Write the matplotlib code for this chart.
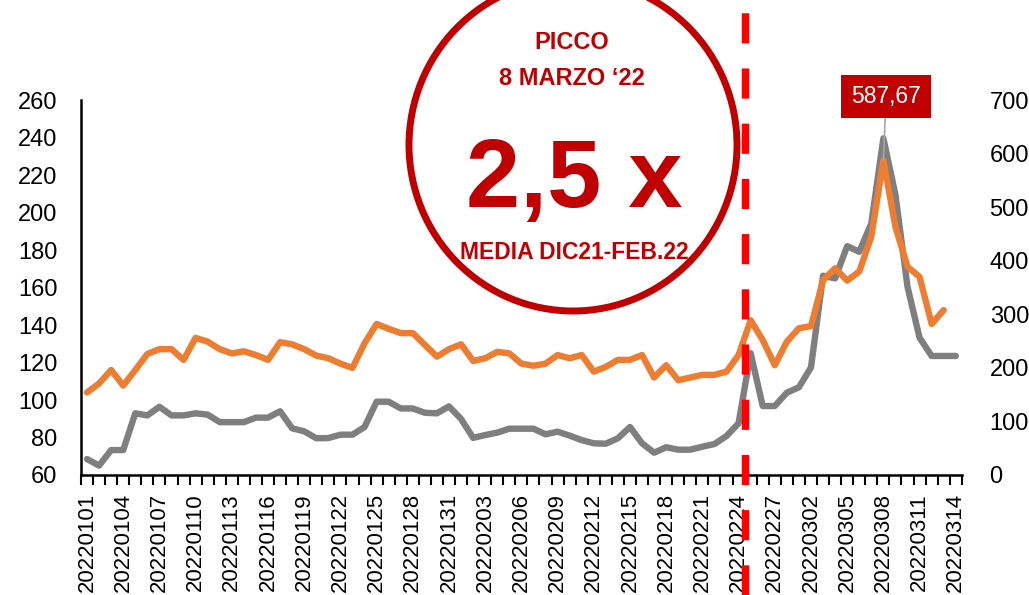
import matplotlib
matplotlib.use("Agg")
import matplotlib.pyplot as plt
from matplotlib.patches import Ellipse
import numpy as np
import pandas as pd

plt.rcParams['font.family'] = ['Liberation Sans', 'DejaVu Sans']

# daily categories 2022-01-01 .. 2022-03-14
dates = list(pd.date_range("2022-01-01", "2022-03-14").strftime("%Y%m%d"))

# grey series, left axis
grey = [68.5, 65.0, 73.3, 73.3, 92.9, 91.8, 96.4, 91.8, 91.8, 92.9,
        92.2, 88.2, 88.2, 88.2, 90.6, 90.6, 94.0, 84.9, 83.3, 79.6,
        79.7, 81.5, 81.5, 85.6, 99.1, 99.1, 95.5, 95.5, 93.2, 92.9,
        96.6, 89.9, 79.8, 81.3, 82.6, 84.7, 84.7, 84.7, 81.7, 83.1,
        81.0, 78.6, 76.9, 76.7, 79.6, 85.6, 76.9, 71.9, 74.8, 73.5,
        73.5, 75.1, 76.5, 80.8, 87.6, 125.0, 96.8, 96.8, 103.9, 106.8,
        117.4, 166.3, 164.9, 182.1, 179.1, 194.2, 239.6, 209.5, 160.4, 133.2,
        123.5, 123.5, 123.5]

# orange series, right axis (one day shorter)
orange = [154, 171, 196, 167, 196, 226, 235, 235, 215, 256,
          249, 235, 227, 231, 224, 215, 248, 244, 235, 223,
          218, 208, 200, 246, 282, 273, 265, 265, 243, 221,
          235, 244, 213, 218, 230, 227, 208, 204, 208, 224,
          218, 224, 193, 202, 215, 215, 224, 182, 205, 177,
          182, 187, 187, 193, 224, 289, 252, 205, 249, 274,
          278, 364, 386, 363, 380, 445, 587.67, 463, 389, 370,
          282, 308]

peak_idx = 66      # 8 marzo
event_idx = 54     # 24 febbraio

left_ticks = list(range(60, 261, 20))
right_ticks = list(range(0, 701, 100))

RED = "#C00000"

fig = plt.figure(figsize=(10.29, 5.95), dpi=100)
ax = fig.add_axes([0.0787, 0.2017, 0.856, 0.630])
ax2 = ax.twinx()

ax.plot(np.arange(len(grey)), grey, color="#7F7F7F", lw=4.6,
        solid_capstyle="round", solid_joinstyle="round")
ax2.plot(np.arange(len(orange)), orange, color="#ED7D31", lw=4.6,
         solid_capstyle="round", solid_joinstyle="round")

ax.set_xlim(-0.5, len(dates) - 0.5)
ax.set_ylim(60, 260)
ax2.set_ylim(0, 700)
ax.set_yticks(left_ticks)
ax2.set_yticks(right_ticks)
ax.tick_params(axis="y", length=0, pad=17, labelsize=17)
ax2.tick_params(axis="y", length=0, pad=20, labelsize=17)

# ticks between categories, labels every 3 days
ax.set_xticks(np.arange(-0.5, len(dates), 1.0))
ax.set_xticklabels([])
lab_pos = np.arange(0, len(dates), 3)
ax.set_xticks(lab_pos, minor=True)
ax.set_xticklabels([dates[i] for i in lab_pos], minor=True, rotation=90)
ax.tick_params(axis="x", which="major", length=7, width=1.5, direction="out")
ax.tick_params(axis="x", which="minor", length=0, pad=13, labelsize=16)

for s in ["top", "right"]:
    ax.spines[s].set_visible(False)
for s in ax2.spines.values():
    s.set_visible(False)
ax.spines["left"].set_linewidth(1.8)
ax.spines["bottom"].set_linewidth(1.8)

# dashed event line
ax2.axvline(event_idx + 0.5, ymin=-0.32, ymax=1.27, color="#FF0000", lw=5.3,
            dashes=(4.1, 3.4), clip_on=False, zorder=10)

# peak label
ax2.annotate("587,67", xy=(peak_idx, orange[peak_idx]), xytext=(2, 46),
             textcoords="offset points", ha="center", va="center",
             color="white", fontsize=16.5,
             bbox=dict(boxstyle="square,pad=0.45", fc=RED, ec="none"),
             arrowprops=dict(arrowstyle="-", color="#A6A6A6", lw=1.2,
                             shrinkA=0, shrinkB=0))

# circle callout
W, H = 1029, 595
fig.add_artist(Ellipse((573 / W, 1 - 145 / H), 2 * 164 / W, 2 * 166 / H,
                       transform=fig.transFigure, fill=False, ec=RED, lw=5))
fig.text(572 / W, 1 - 49 / H, "PICCO", ha="center", va="baseline",
         fontsize=17, weight="bold", color=RED)
fig.text(572 / W, 1 - 85 / H, "8 MARZO \u201822", ha="center", va="baseline",
         fontsize=17, weight="bold", color=RED)
fig.text(574 / W, 1 - 207 / H, "2,5 x", ha="center", va="baseline",
         fontsize=70, weight="bold", color=RED)
fig.text(574 / W, 1 - 259 / H, "MEDIA DIC21-FEB.22", ha="center", va="baseline",
         fontsize=16.5, weight="bold", color=RED)

fig.savefig("out.png", dpi=100)
